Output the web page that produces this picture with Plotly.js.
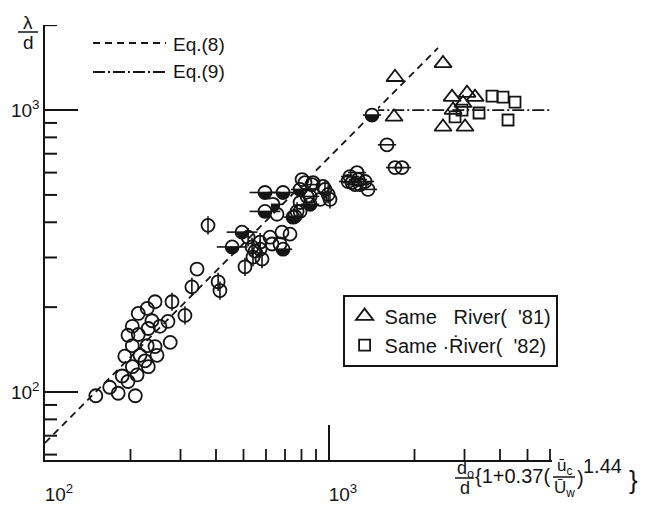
<!DOCTYPE html>
<html>
<head>
<meta charset="utf-8">
<script src="https://cdn.plot.ly/plotly-3.0.1.min.js"></script>
<style>html,body{margin:0;padding:0;background:#fff}</style>
</head>
<body>
<div id="chart" style="width:650px;height:505px"></div>
<script>
// Wavelength ratio λ/d against the corrected depth parameter (log–log)

// Eq.(8): power-law fit, Eq.(9): upper limit
const eq8X = [100, 2420];
const eq8Y = [66, 1660];
const eq9X = [1420, 6000];
const eq9Y = [1000, 1000];

// plain open circles
const openX = [151, 169, 181, 208, 187, 196, 211, 203, 231, 216, 248, 229, 244, 203, 276, 196, 213, 231, 203, 254, 238, 271, 213, 229, 244, 343, 191, 225,
               620, 683, 729, 672, 630, 549, 656, 823, 879, 953, 930, 804, 837, 791, 791];
const openY = [97, 104, 99, 97, 114, 109, 115, 123, 123, 135, 135, 146, 145, 146, 150, 159, 160, 168, 171, 171, 179, 178, 190, 198, 209, 273, 134, 129,
               354, 369, 363, 335, 335, 316, 427, 553, 553, 536, 482, 567, 494, 470, 437];

// circles with a vertical bar
const vbarX = [375, 280, 311, 329, 407, 413, 519, 572, 536, 581, 540, 506, 772, 993, 572, 968, 1008];
const vbarY = [390, 209, 187, 236, 246, 229, 354, 340, 327, 296, 301, 278, 437, 502, 321, 523, 482];

// circles with a horizontal bar
const hbarX = [1600, 1708, 1807, 1186, 1255, 1167, 1265, 1339, 1372, 1235, 1286, 1205];
const hbarY = [753, 625, 625, 581, 600, 558, 567, 558, 523, 544, 544, 553];

// half-filled circles
const halfX = [1417, 689, 635, 759, 858, 747, 791, 858, 871];
const halfY = [960, 321, 463, 420, 494, 417, 523, 463, 544];

// half-filled circles with a horizontal tail
const tailX = [456, 494, 595, 595, 689];
const tailY = [327, 369, 510, 437, 510];

// Same River, 1981 and 1982
const river81X = [1708, 2520, 1694, 2712, 3062, 3267, 2964, 2734, 2520, 3013];
const river81Y = [1307, 1464, 945, 1111, 1148, 1111, 1058, 1000, 871, 871];
const river82X = [3750, 4100, 4518, 3375, 2779, 2940, 4270];
const river82Y = [1120, 1111, 1067, 976, 945, 1000, 922];

// axis ticks: long labelled ticks at the decades, short ones in between
const decades = [100, 1000];
const decadeText = ['10<sup>2</sup>', '10<sup>3</sup>'];
const xMinor = [200, 300, 400, 500, 600, 700, 800, 900, 2000, 3000, 4000, 5000, 6000];
const yMinor = [60, 70, 80, 90, 200, 300, 400, 500, 600, 700, 800, 900, 2000];

const INK = '#151515';
const FONT = 'Liberation Sans, Arial, sans-serif';
const MINOR_LEN = 11;

function circles(x, y) {
  return {x, y, mode: 'markers', showlegend: false, hoverinfo: 'skip',
    marker: {symbol: 'circle-open', size: 13, color: INK, line: {width: 1.8, color: INK}}};
}
function bars(x, y, sym, size) {
  return {x, y, mode: 'markers', showlegend: false, hoverinfo: 'skip',
    marker: {symbol: sym, size: size, color: INK, line: {width: 1.6, color: INK}}};
}
// lower half black: a black disc, its top half masked in white, then the outline
function halves(x, y) {
  return [
    {x, y, mode: 'markers', showlegend: false, hoverinfo: 'skip',
     marker: {symbol: 'circle', size: 13, color: INK, line: {width: 0}}},
    {x, y, mode: 'markers', showlegend: false, hoverinfo: 'skip',
     marker: {symbol: 'square', size: 12, color: '#ffffff', angle: 180, standoff: 6, line: {width: 0}}},
    {x, y, mode: 'markers', showlegend: false, hoverinfo: 'skip',
     marker: {symbol: 'circle-open', size: 13, color: INK, line: {width: 1.8, color: INK}}}
  ];
}

const traces = [
  {x: eq8X, y: eq8Y, mode: 'lines', showlegend: false, hoverinfo: 'skip',
   line: {color: INK, width: 1.8, dash: '7px,5px'}},
  {x: eq9X, y: eq9Y, mode: 'lines', showlegend: false, hoverinfo: 'skip',
   line: {color: INK, width: 1.8, dash: '12px,3px,2px,3px'}},
  ...halves(halfX, halfY),
  bars(halfX, halfY, 'line-ew-open', 13),
  ...halves(tailX, tailY),
  bars(tailX, tailY, 'line-ew-open', 22),
  circles(openX, openY),
  circles(vbarX, vbarY),
  bars(vbarX, vbarY, 'line-ns-open', 13),
  circles(hbarX, hbarY),
  bars(hbarX, hbarY, 'line-ew-open', 13),
  {x: river81X, y: river81Y, mode: 'markers', name: "Same\u00a0\u00a0\u00a0River(\u00a0\u00a0'81)",
   hoverinfo: 'skip',
   marker: {symbol: 'triangle-up-open', size: 15, color: INK, line: {width: 1.8, color: INK}}},
  {x: river82X, y: river82Y, mode: 'markers', name: "Same\u00a0\u00b7\u1e58iver(\u00a0\u00a0'82)",
   hoverinfo: 'skip',
   marker: {symbol: 'square-open', size: 11, color: INK, line: {width: 1.8, color: INK}}},
  // empty trace on the overlay axes (decade units) used for the short ticks
  {x: [], y: [], xaxis: 'x2', yaxis: 'y2', mode: 'markers', showlegend: false, hoverinfo: 'skip'}
];

// paper coordinates of the plot frame
const L = 45, T = 25, W = 507, H = 435;
const px = v => (v - L) / W;
const py = v => (T + H - v) / H;
const xRange = [2, 2 + W / 284];
const yRange = [1.759, 1.759 + H / 282];

function label(text, x, y, size, anchor) {
  return {text, x: px(x), y: py(y), xref: 'paper', yref: 'paper', showarrow: false,
    xanchor: anchor || 'center', yanchor: 'middle', font: {family: FONT, size: size, color: INK}};
}
function rule(x0, x1, y, dash) {
  return {type: 'line', xref: 'paper', yref: 'paper', x0: px(x0), x1: px(x1), y0: py(y), y1: py(y),
    line: {color: INK, width: dash ? 1.8 : 1.5, dash: dash || 'solid'}};
}
// short tick marks rising from the x axis / running right from the y axis
const xTickMarks = xMinor.map(v => ({
  type: 'line', xref: 'x2', yref: 'paper',
  x0: Math.log10(v), x1: Math.log10(v), y0: 0, y1: MINOR_LEN / H,
  line: {color: INK, width: 1.8}}));
const yTickMarks = yMinor.map(v => ({
  type: 'line', xref: 'paper', yref: 'y2',
  x0: 0, x1: (MINOR_LEN + 1) / W, y0: Math.log10(v), y1: Math.log10(v),
  line: {color: INK, width: 2}}));

const layout = {
  width: 650, height: 505,
  margin: {l: L, r: 650 - L - W, t: T, b: 505 - T - H},
  paper_bgcolor: '#ffffff', plot_bgcolor: '#ffffff',
  font: {family: FONT, color: INK},
  xaxis: {
    type: 'log', range: xRange, showgrid: false, zeroline: false,
    showline: true, linecolor: INK, linewidth: 1.7,
    ticks: 'inside', ticklen: 35, tickwidth: 1.7, tickcolor: INK,
    tickmode: 'array', tickvals: decades, ticktext: decadeText,
    tickfont: {family: FONT, size: 19, color: INK},
    ticklabelstandoff: 16, ticklabelshift: 14
  },
  yaxis: {
    type: 'log', range: yRange, showgrid: false, zeroline: false,
    showline: true, linecolor: INK, linewidth: 1.7,
    ticks: 'inside', ticklen: 33, tickwidth: 1.7, tickcolor: INK,
    tickmode: 'array', tickvals: decades, ticktext: decadeText,
    tickfont: {family: FONT, size: 19, color: INK}
  },
  xaxis2: {
    type: 'linear', range: xRange, overlaying: 'x', anchor: 'y', side: 'bottom',
    showgrid: false, zeroline: false, showline: false, showticklabels: false,
    ticks: '', tickmode: 'array', tickvals: xMinor.map(Math.log10)
  },
  yaxis2: {
    type: 'linear', range: yRange, overlaying: 'y', anchor: 'x', side: 'left',
    showgrid: false, zeroline: false, showline: false, showticklabels: false,
    ticks: '', tickmode: 'array', tickvals: yMinor.map(Math.log10)
  },
  legend: {
    x: px(343), y: py(295), xanchor: 'left', yanchor: 'top',
    bordercolor: INK, borderwidth: 1.6, bgcolor: '#ffffff',
    font: {family: FONT, size: 20, color: INK}, tracegroupgap: 0
  },
  shapes: [
    rule(93, 166, 43, '7px,5px'),
    rule(93, 166, 72, '12px,3px,2px,3px'),
    rule(18, 38, 32),
    rule(455, 474, 478),
    rule(553, 575, 477),
    ...xTickMarks,
    ...yTickMarks
  ],
  annotations: [
    label('Eq.(8)', 171, 44, 19, 'left'),
    label('Eq.(9)', 171, 72, 19, 'left'),
    label('\u03bb', 28, 23, 19),
    label('d', 28, 42, 19),
    label('d<sub>o</sub>', 465, 469, 18),
    label('d', 465, 488, 18),
    label('{1+0.37(', 473, 476, 20, 'left'),
    label('\u016b<sub>c</sub>', 564, 467, 17),
    label('\u016a<sub>w</sub>', 564, 489, 17),
    label(')', 575, 478, 20, 'left'),
    label('1.44', 581, 466, 20, 'left'),
    label('}', 627, 480, 26, 'left')
  ]
};

Plotly.newPlot('chart', traces, layout, {staticPlot: true, displayModeBar: false});
</script>
</body>
</html>
